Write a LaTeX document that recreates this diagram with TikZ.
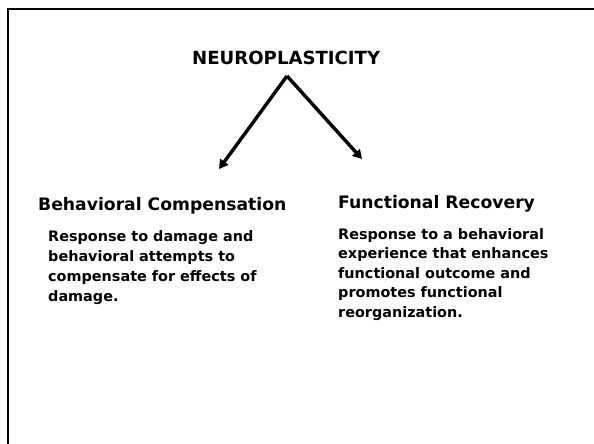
\documentclass[tikz,border=0pt]{standalone}
\usepackage{fontspec}
\setmainfont{DejaVu Sans}
\usetikzlibrary{arrows.meta}
\tikzset{
  txt/.style={inner sep=0pt, anchor=base west, font=\bfseries},
  arr/.style={line width=3.4pt, -{Triangle[length=9pt,width=10pt]}},
  frame/.style={line width=2.6pt}
}
\begin{document}
\begin{tikzpicture}[x=1pt,y=-1pt]
\useasboundingbox (0,0) rectangle (594,444);
\fill[white] (0,0) rectangle (594,444);
\draw[frame] (8,460) -- (8,9) -- (610,9);
\node[txt, font=\bfseries\fontsize{18.1}{20}\selectfont] (title) at (192,65) {NEUROPLASTICITY};
\coordinate (apex) at (287,76);
\coordinate (ltip) at (219,169);
\coordinate (rtip) at (362,159);
\draw[arr] (apex) -- (ltip);
\draw[arr] (apex) -- (rtip);
\node[txt, font=\bfseries\fontsize{17.2}{20}\selectfont] (lhead) at (38,210) {Behavioral Compensation};
\node[txt, font=\bfseries\fontsize{17.2}{20}\selectfont] (rhead) at (338,208) {Functional Recovery};
\node[txt] (lbody) at (48,241) {\parbox[t]{260pt}{\fontsize{14.4}{20}\selectfont\bfseries
Response to damage and\\
behavioral attempts to\\
compensate for effects of\\
damage.}};
\node[txt] (rbody) at (338,239) {\parbox[t]{250pt}{\fontsize{14.4}{19.5}\selectfont\bfseries
Response to a behavioral\\
experience that enhances\\
functional outcome and\\
promotes functional\\
reorganization.}};
\end{tikzpicture}
\end{document}
